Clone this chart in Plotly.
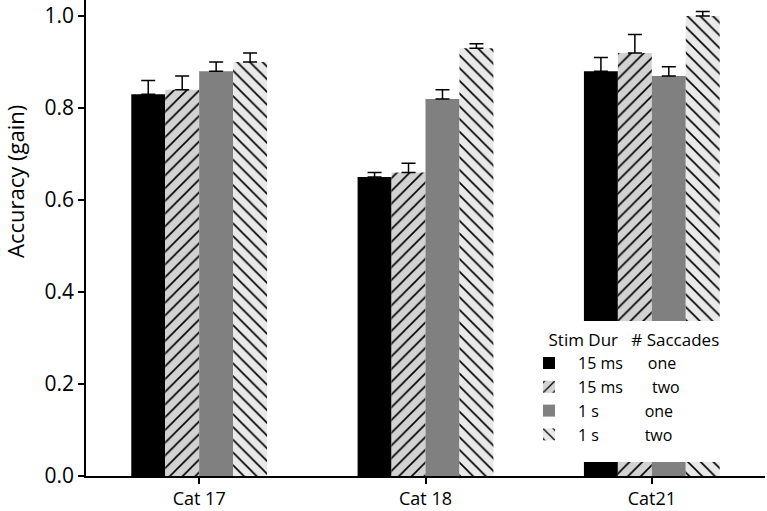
import plotly.graph_objects as go

categories = ["Cat 17", "Cat 18", "Cat21"]
series_names = ["15 ms\u00a0\u00a0\u00a0\u00a0\u00a0\u00a0one",
                "15 ms\u00a0\u00a0\u00a0\u00a0\u00a0\u00a0\u00a0two",
                "1 s\u00a0\u00a0\u00a0\u00a0\u00a0\u00a0\u00a0\u00a0\u00a0\u00a0\u00a0one",
                "1 s\u00a0\u00a0\u00a0\u00a0\u00a0\u00a0\u00a0\u00a0\u00a0\u00a0\u00a0two"]
ms15_one = [0.83, 0.65, 0.88]
ms15_two = [0.84, 0.66, 0.92]
s1_one = [0.88, 0.82, 0.87]
s1_two = [0.90, 0.93, 1.00]
err_ms15_one = [0.03, 0.01, 0.03]
err_ms15_two = [0.03, 0.02, 0.04]
err_s1_one = [0.02, 0.02, 0.02]
err_s1_two = [0.02, 0.01, 0.01]
y_ticks = [0.0, 0.2, 0.4, 0.6, 0.8, 1.0]

values = [ms15_one, ms15_two, s1_one, s1_two]
errors = [err_ms15_one, err_ms15_two, err_s1_one, err_s1_two]
colors = ["#000000", "#d2d2d2", "#808080", "#e9e9e9"]
patterns = ["", "/", "", "\\"]

FONT = "Open Sans"
fig = go.Figure()
for name, vals, errs, col, pat in zip(series_names, values, errors, colors, patterns):
    marker = dict(color=col, line=dict(width=0))
    if pat:
        marker["pattern"] = dict(shape=pat, fgcolor="#000000", bgcolor=col,
                                 fgopacity=1, size=9, solidity=0.18,
                                 fillmode="overlay")
    fig.add_trace(go.Bar(
        x=categories, y=vals, name=name, marker=marker,
        error_y=dict(type="data", array=errs, arrayminus=[0] * len(errs),
                     symmetric=False, color="#000000", thickness=1.5, width=7),
    ))

# white backdrop behind the legend (like the original's legend box)
fig.add_shape(type="rect", xref="paper", yref="paper",
              x0=(520 - 86) / 679, x1=(732 - 86) / 679,
              y0=(476 - 462) / 476, y1=(476 - 321) / 476,
              fillcolor="white", line=dict(width=0), layer="above")

fig.update_layout(
    width=767, height=511,
    margin=dict(l=86, r=2, t=0, b=35),
    paper_bgcolor="white", plot_bgcolor="white",
    barmode="group", bargap=0.4, bargroupgap=0,
    font=dict(family=FONT, color="#000000", size=17),
    showlegend=True,
    legend=dict(
        x=(520 - 86) / 679, y=(476 - 324) / 476, xanchor="left", yanchor="top",
        bgcolor="rgba(255,255,255,0)", borderwidth=0,
        title=dict(text="\u00a0\u00a0\u00a0\u00a0\u00a0\u00a0Stim Dur\u00a0\u00a0\u00a0# Saccades", side="top",
                   font=dict(size=17, family=FONT)),
        font=dict(size=16, family=FONT),
        itemwidth=48, tracegroupgap=2,
    ),
    xaxis=dict(
        range=[-0.5, 2.5], showline=True, linecolor="#000000", linewidth=1.5,
        ticks="outside", ticklen=6, tickcolor="#000000", tickwidth=1.5,
        tickfont=dict(size=18, family=FONT), showgrid=False, zeroline=False,
        automargin=False,
    ),
    yaxis=dict(
        range=[0, 1.035], showline=True, linecolor="#000000", linewidth=1.5,
        ticks="outside", ticklen=6, tickcolor="#000000", tickwidth=1.5,
        tickvals=y_ticks, tickformat=".1f", automargin=False,
        tickfont=dict(size=21, family=FONT), showgrid=False, zeroline=False,
    ),
    annotations=[dict(
        text="Accuracy (gain)", textangle=-90, showarrow=False,
        xref="paper", yref="paper", x=(15 - 86) / 679, y=(476 - 182) / 476,
        xanchor="center", yanchor="middle", font=dict(size=22, family=FONT),
    )],
)

fig.write_html("out.html", config={"displayModeBar": False},
               post_script="document.body.style.margin='0px';")
